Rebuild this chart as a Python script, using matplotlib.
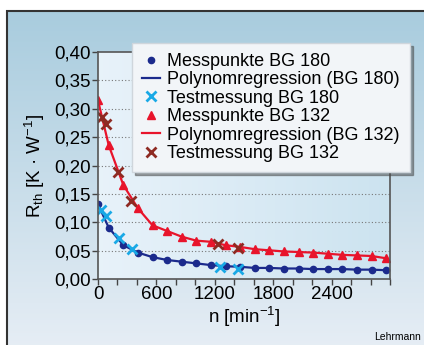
import numpy as np
import matplotlib
matplotlib.use("Agg")
from matplotlib import pyplot as plt
from matplotlib.patches import Rectangle
from matplotlib.ticker import FixedLocator, FuncFormatter

plt.rcParams['font.family'] = ['Liberation Sans', 'DejaVu Sans']
plt.rcParams['mathtext.default'] = 'regular'

# Messpunkte (Drehzahl in min^-1, Rth in K/W)
n_mess = [0, 110, 260, 410, 560, 710, 860, 1010, 1160, 1310, 1460,
          1610, 1760, 1910, 2060, 2210, 2360, 2510, 2660, 2810, 2960]
r_bg180 = [0.132, 0.091, 0.060, 0.047, 0.039, 0.034, 0.031, 0.028, 0.025, 0.023, 0.022,
           0.020, 0.020, 0.019, 0.019, 0.018, 0.018, 0.018, 0.017, 0.017, 0.016]
r_bg132 = [0.315, 0.236, 0.166, 0.125, 0.095, 0.085, 0.075, 0.068, 0.066, 0.060, 0.057,
           0.053, 0.051, 0.049, 0.048, 0.047, 0.045, 0.043, 0.042, 0.041, 0.037]

# Testmessungen
n_test180 = [35, 80, 215, 345, 1250, 1440]
r_test180 = [0.122, 0.111, 0.072, 0.053, 0.022, 0.019]
n_test132 = [45, 85, 205, 335, 1235, 1440]
r_test132 = [0.286, 0.274, 0.189, 0.138, 0.062, 0.055]

x_ticks = list(range(0, 3001, 200))
x_labels = [0, 600, 1200, 1800, 2400]
y_ticks = [0.0, 0.05, 0.10, 0.15, 0.20, 0.25, 0.30, 0.35, 0.40]

navy = '#1b2a8c'
cyan = '#19a9e6'
red = '#e8142b'
brown = '#8e2a22'

fig = plt.figure(figsize=(4.24, 3.45), dpi=100)
fig.patch.set_facecolor('white')

# background gradient with frame
bg = fig.add_axes([6 / 424, 0, 1 - 6 / 424, 1 - 10 / 345], zorder=-10)
grad = np.linspace(0, 1, 256)[:, None]
top_c = np.array([0.66, 0.80, 0.87])
bot_c = np.array([0.90, 0.93, 0.96])
img = top_c + (bot_c - top_c) * grad
bg.imshow(np.repeat(img[:, None, :], 2, axis=1), aspect='auto', extent=[0, 1, 0, 1])
bg.set_axis_off()
fig.add_artist(Rectangle((6.5 / 424, -0.01), 1.1, 1 - 10.5 / 345 + 0.01, transform=fig.transFigure,
                         fill=False, edgecolor='#333333', linewidth=1.5))

ax = fig.add_axes([98 / 424, 65.7 / 345, 292 / 424, 227.3 / 345])
# axes background gradient (lighter on the left)
gx = np.linspace(0, 1, 256)[None, :]
left_c = np.array([0.91, 0.95, 0.98])
right_c = np.array([0.80, 0.89, 0.94])
aimg = left_c + (right_c - left_c) * gx[:, :, None]
ax.imshow(np.repeat(aimg, 2, axis=0), aspect='auto', extent=[0, 3000, 0, 0.40], zorder=0)

for y in y_ticks[1:-1]:
    ax.axhline(y, color='#777777', linestyle=(0, (1, 2)), linewidth=0.8, zorder=1)

ax.plot(n_mess, r_bg132, '-', color=red, linewidth=1.6, zorder=3,
        label='Polynomregression (BG 132)')
ax.plot(n_mess, r_bg180, '-', color=navy, linewidth=1.6, zorder=3,
        label='Polynomregression (BG 180)')
ax.plot(n_mess, r_bg180, 'o', color=navy, markersize=4.5, zorder=4, label='Messpunkte BG 180')
ax.plot(n_mess, r_bg132, '^', color=red, markersize=6, zorder=4, label='Messpunkte BG 132')
ax.plot(n_test180, r_test180, 'x', color=cyan, markersize=7.5, markeredgewidth=2, zorder=5,
        label='Testmessung BG 180')
ax.plot(n_test132, r_test132, 'x', color=brown, markersize=7.5, markeredgewidth=2, zorder=5,
        label='Testmessung BG 132')

ax.set_xlim(0, 3000)
ax.set_ylim(0, 0.40)
ax.xaxis.set_major_locator(FixedLocator(x_ticks))
ax.xaxis.set_major_formatter(FuncFormatter(lambda v, p: f'{int(v)}' if int(v) in x_labels else ''))
ax.yaxis.set_major_locator(FixedLocator(y_ticks))
ax.yaxis.set_major_formatter(FuncFormatter(lambda v, p: f'{v:.2f}'.replace('.', ',')))
ax.tick_params(axis='both', direction='out', length=4, width=1, color='#444444',
               labelsize=13.5, pad=1)
for s in ax.spines.values():
    s.set_color('#555555')
    s.set_linewidth(1.2)
    s.set_zorder(6)

ax.set_xlabel('n [min$^{-1}$]', fontsize=13.5, labelpad=1)
ax.set_ylabel('R$_{th}$ [K · W$^{-1}$]', fontsize=13.5, labelpad=5)

handles, labels = ax.get_legend_handles_labels()
order = ['Messpunkte BG 180', 'Polynomregression (BG 180)', 'Testmessung BG 180',
         'Messpunkte BG 132', 'Polynomregression (BG 132)', 'Testmessung BG 132']
hmap = dict(zip(labels, handles))
leg = fig.legend([hmap[k] for k in order], order, loc='upper left',
                 bbox_to_anchor=(132 / 424, 1 - 43 / 345), fontsize=13,
                 handlelength=1.0, handletextpad=0.4, labelspacing=0.08,
                 borderpad=0.55, borderaxespad=0, fancybox=False, shadow=True,
                 framealpha=1, facecolor='#f2f5f8', edgecolor='#cfd6dc')
leg.set_zorder(10)

fig.text(421 / 424, 1 - 337 / 345, 'Lehrmann', ha='right', va='center', fontsize=7.5)

fig.savefig('out.png', dpi=100)
